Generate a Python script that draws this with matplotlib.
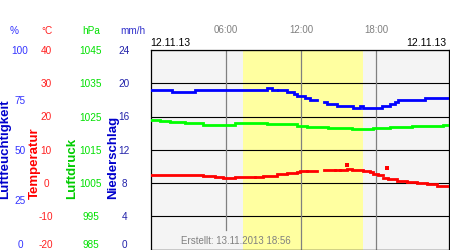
import numpy as np
import matplotlib
matplotlib.use("Agg")
import matplotlib.pyplot as plt

plt.rcParams['font.family'] = ['Liberation Sans', 'DejaVu Sans']
plt.rcParams['axes.unicode_minus'] = False

nan = np.nan

# Luftfeuchtigkeit (%), step segments: start/end hours and value
hum_t = [0.0, 1.69, 3.55, 9.26, 9.65, 10.05, 10.19, 10.85, 11.43, 11.65, 12.31,
         12.71, 13.29, 13.85, 14.04, 14.83, 16.16, 16.69, 16.96, 18.47, 19.08,
         19.48, 19.75, 21.87, 23.81]
hum_v = [80, 79, 80, 81, 80, nan, 80, 79, 78, 77, 76, 75, nan, 74, 73, 72, 71,
         72, 71, 72, 73, 74, 75, 76]

# Luftdruck (hPa)
press_t = [0.0, 0.75, 1.55, 2.75, 4.21, 6.73, 9.26, 11.65, 12.45, 14.17, 16.03,
           17.76, 19.08, 20.81, 23.33, 23.81]
press_v = [1023.9, 1023.6, 1023.3, 1022.9, 1022.5, 1023.0, 1022.6, 1022.1,
           1021.7, 1021.6, 1021.1, 1021.5, 1021.8, 1022.2, 1022.5]

# Temperatur (°C)
temp_t = [0.0, 4.21, 5.14, 5.81, 6.73, 8.33, 8.99, 10.05, 10.85, 11.65, 11.91,
          12.45, 13.24, 13.85, 14.7, 15.1, 15.63, 16.03, 16.96, 17.49, 17.76,
          18.15, 18.55, 18.95, 19.61, 20.41, 21.2, 22.0, 22.8, 23.81]
temp_v = [2.4, 2.1, 1.7, 1.4, 1.7, 1.8, 2.1, 2.6, 3.0, 3.3, 3.7, 3.5, nan, 3.8,
          4.0, 3.8, 4.1, 3.9, 3.7, 3.3, 2.8, 2.3, 1.6, 1.2, 0.7, 0.3, 0.0, -0.3,
          -0.9]
temp_spike_t = [15.63, 18.87]
temp_spike_v = [5.4, 4.5]

daylight = (7.39, 16.9)
time_ticks = [6, 12, 18]
time_labels = ["06:00", "12:00", "18:00"]

fig = plt.figure(figsize=(4.5, 2.5), dpi=100)
ax = fig.add_axes([150.5 / 450, 0.5 / 250, 298.8 / 450, 199.5 / 250])
ax.set_facecolor('#f4f4f4')
ax.set_xlim(0, 23.81)

# precipitation axis (mm/h) carries the grid
ax.set_ylim(0, 24)
ax.set_yticks(range(0, 25, 4))
ax.grid(axis='y', color='black', lw=0.8, zorder=1)
ax.set_axisbelow(True)
ax.axvspan(*daylight, color='#ffffa0', lw=0, zorder=0.5)
for i, t in enumerate(time_ticks):
    ax.axvline(t, ymin=0.1 if i == 0 else 0, color='#808080', lw=0.9, zorder=1.2)
for s in ax.spines.values():
    s.set_color('black')
    s.set_linewidth(0.9)

ax.xaxis.tick_top()
ax.set_xticks(time_ticks)
ax.set_xticklabels(time_labels)
ax.tick_params(axis='x', length=0, pad=11, labelsize=7, labelcolor='#808080')

ax_h = ax.twinx()
ax_t = ax.twinx()
ax_p = ax.twinx()
ax_h.set_ylim(0, 100)
ax_h.set_yticks(range(0, 101, 25))
ax_t.set_ylim(-20, 40)
ax_t.set_yticks(range(-20, 41, 10))
ax_p.set_ylim(985, 1045)
ax_p.set_yticks(range(985, 1046, 10))

axis_cfg = [(ax_h, 94, '#3333ff'), (ax_t, 75, '#ff2020'),
            (ax_p, 43, '#00e000'), (ax, 19, '#2222aa')]
for a, pad, col in axis_cfg:
    a.yaxis.tick_left()
    a.tick_params(axis='y', length=0, pad=pad, labelsize=7.2, labelcolor=col)
    labels = a.get_yticklabels()
    for lab in labels:
        lab.set_ha('center')
    labels[0].set_va('bottom')
    if a is not ax:
        for s in a.spines.values():
            s.set_visible(False)

lw = 2.0
ax_h.hlines(hum_v, hum_t[:-1], hum_t[1:], color='#0000ff', lw=lw,
            capstyle='projecting', zorder=3)
ax_p.hlines(press_v, press_t[:-1], press_t[1:], color='#00ff00', lw=lw,
            capstyle='projecting', zorder=3)
ax_t.hlines(temp_v, temp_t[:-1], temp_t[1:], color='#ff0000', lw=lw,
            capstyle='projecting', zorder=3)
ax_t.plot(temp_spike_t, temp_spike_v, 's', color='#ff0000', ms=2.2, mew=0)

# unit labels
units = [("%", 14, '#3333ff'), ("°C", 47, '#ff2020'), ("hPa", 91, '#00e000'),
         ("mm/h", 133, '#3333cc')]
for txt, x, col in units:
    fig.text(x / 450, 1 - 30.5 / 250, txt, color=col, fontsize=7.2,
             ha='center', va='center')

# rotated axis titles
titles = [("Luftfeuchtigkeit", 5.5, '#0000cc'), ("Temperatur", 35, '#ff0000'),
          ("Luftdruck", 72, '#00cc00'), ("Niederschlag", 113, '#0000cc')]
for txt, x, col in titles:
    fig.text(x / 450, 1 - 199 / 250, txt, color=col, fontsize=9.5,
             fontweight='bold', rotation=90, ha='center', va='bottom')

fig.text(150.5 / 450, 1 - 43.5 / 250, "12.11.13", fontsize=7.5, ha='left', va='center')
fig.text(446.5 / 450, 1 - 43.5 / 250, "12.11.13", fontsize=7.5, ha='right', va='center')
fig.text(236 / 450, 1 - 241 / 250, "Erstellt: 13.11.2013 18:56", fontsize=7,
         color='#808080', ha='center', va='center')

fig.savefig("out.png", dpi=100)
